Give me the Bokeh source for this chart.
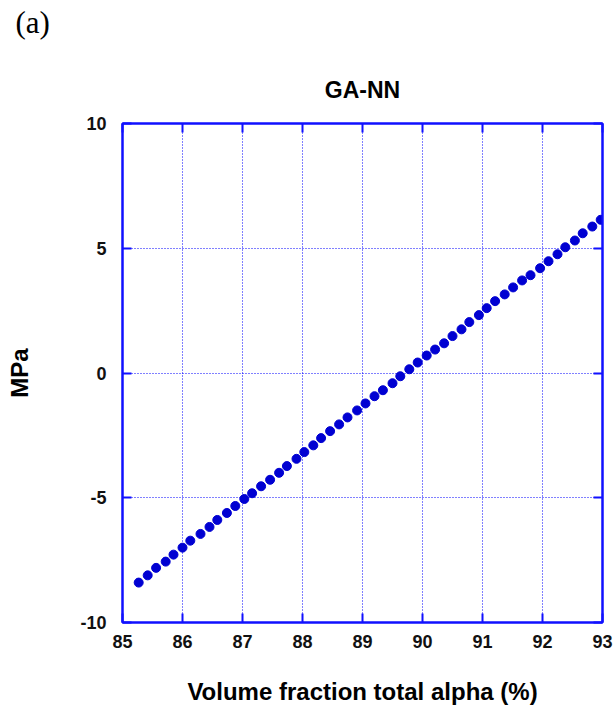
from bokeh.plotting import figure
from bokeh.models import LinearAxis, FixedTicker, Range1d, Title, ColumnDataSource
from bokeh.embed import file_html
from bokeh.resources import INLINE

# Volume fraction total alpha (%)
alpha_pct = [85.27, 85.42, 85.56, 85.72, 85.85, 86.00, 86.13, 86.30, 86.45, 86.58, 86.74, 86.88, 87.03,
             87.16, 87.31, 87.46, 87.61, 87.74, 87.90, 88.03, 88.18, 88.31, 88.46, 88.61, 88.75, 88.91, 89.05,
             89.20, 89.34, 89.50, 89.63, 89.78, 89.92, 90.07, 90.21, 90.36, 90.50, 90.65, 90.78, 90.94, 91.07,
             91.21, 91.37, 91.51, 91.66, 91.80, 91.96, 92.10, 92.25, 92.38, 92.54, 92.67, 92.83, 92.97]
# GA-NN prediction (MPa)
mpa = [-8.40, -8.11, -7.81, -7.56, -7.28, -7.00, -6.72, -6.45, -6.17, -5.89, -5.61, -5.33, -5.05,
       -4.82, -4.54, -4.28, -4.00, -3.73, -3.44, -3.17, -2.90, -2.61, -2.33, -2.06, -1.78, -1.50, -1.22,
       -0.93, -0.69, -0.41, -0.13, 0.15, 0.42, 0.70, 0.94, 1.19, 1.48, 1.75, 2.04, 2.32, 2.60,
       2.88, 3.15, 3.43, 3.71, 3.92, 4.20, 4.48, 4.76, 5.04, 5.31, 5.60, 5.87, 6.14]

x_ticks = [85, 86, 87, 88, 89, 90, 91, 92, 93]
y_ticks = [-10, -5, 0, 5, 10]
y_tick_labels = ["-10", "-5", "0", "5", "10"]

BLUE = "#1010ff"
FONT = "Liberation Sans"

p = figure(width=615, height=712, output_backend="svg", toolbar_location=None,
           title=None,
           x_range=Range1d(85, 93), y_range=Range1d(-10, 10),
           min_border_left=122, min_border_right=13, min_border_top=123, min_border_bottom=90,
           background_fill_color="white", border_fill_color="white")

p.outline_line_color = BLUE
p.outline_line_width = 2

for ax, ticks in ((p.xaxis[0], x_ticks), (p.yaxis[0], y_ticks)):
    ax.ticker = FixedTicker(ticks=ticks)
    ax.axis_line_color = BLUE
    ax.axis_line_width = 2
    ax.major_tick_line_color = BLUE
    ax.major_tick_line_width = 2
    ax.major_tick_in = 9
    ax.major_tick_out = 0
    ax.minor_tick_line_color = None
    ax.major_label_text_font = FONT
    ax.major_label_text_font_style = "bold"
    ax.major_label_text_font_size = "18px"
    ax.major_label_text_color = "#111111"
    ax.axis_label_text_font = FONT
    ax.axis_label_text_font_style = "bold"
    ax.axis_label_text_color = "black"

p.yaxis[0].major_label_overrides = dict(zip(y_ticks, y_tick_labels))

p.xaxis[0].axis_label = "Volume fraction total alpha (%)"
p.xaxis[0].axis_label_text_font_size = "24px"
p.xaxis[0].major_label_standoff = 12
p.xaxis[0].axis_label_standoff = 27

p.yaxis[0].axis_label = "MPa"
p.yaxis[0].axis_label_text_font_size = "24px"
p.yaxis[0].major_label_standoff = 16
p.yaxis[0].axis_label_standoff = 44

# mirrored tick axes; the top one carries the chart title "GA-NN"
top_ax = LinearAxis(ticker=FixedTicker(ticks=x_ticks),
                    major_label_overrides={t: "" for t in x_ticks},
                    axis_line_color=BLUE, axis_line_width=2,
                    major_tick_line_color=BLUE, major_tick_line_width=2,
                    major_tick_in=9, major_tick_out=0,
                    minor_tick_line_color=None, major_label_standoff=0,
                    axis_label="GA-NN", axis_label_standoff=21,
                    axis_label_text_font=FONT, axis_label_text_font_size="23px",
                    axis_label_text_font_style="bold", axis_label_text_color="black")
p.add_layout(top_ax, "above")

right_ax = LinearAxis(ticker=FixedTicker(ticks=y_ticks),
                      major_label_overrides={t: "" for t in y_ticks},
                      axis_line_color=BLUE, axis_line_width=2,
                      major_tick_line_color=BLUE, major_tick_line_width=2,
                      major_tick_in=9, major_tick_out=0,
                      minor_tick_line_color=None, major_label_standoff=0)
p.add_layout(right_ax, "right")

# blank spacer title, then the panel tag "(a)" at the top-left
p.add_layout(Title(text=" ", text_font=FONT, text_font_size="10px", standoff=21), "above")
p.add_layout(Title(text="(a)", align="left", offset=-107,
                   text_font="Liberation Serif", text_font_size="31px",
                   text_font_style="normal", text_color="black", standoff=0), "above")

p.xgrid.ticker = FixedTicker(ticks=x_ticks)
p.ygrid.ticker = FixedTicker(ticks=y_ticks)
for g in (p.xgrid[0], p.ygrid[0]):
    g.grid_line_color = "#0000ff"
    g.grid_line_width = 1
    g.grid_line_dash = "1 2"
    g.grid_line_alpha = 1.0

src = ColumnDataSource(data=dict(x=alpha_pct, y=mpa))
p.scatter("x", "y", source=src, size=9, fill_color="#0000d2", line_color="#0000d2")

open("out.html", "w").write(file_html(p, INLINE))
